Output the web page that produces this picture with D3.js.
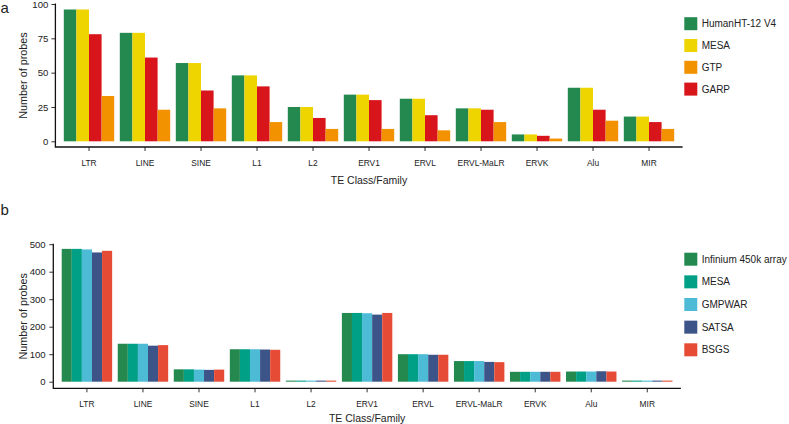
<!DOCTYPE html>
<html>
<head>
<meta charset="utf-8">
<script src="https://cdn.jsdelivr.net/npm/d3@7"></script>
<style>
    body { margin: 0; background: #fff; }
    text { font-family: "Liberation Sans", Arial, Helvetica, sans-serif; fill: #222; }
</style>
</head>
<body>
<div id="chart"></div>
<script>
// TE classes / families on the x axis (same for both panels)
const families = ["LTR", "LINE", "SINE", "L1", "L2", "ERV1", "ERVL", "ERVL-MaLR", "ERVK", "Alu", "MIR"];

// panel a - expression platforms
const exprLegend = ["HumanHT-12 V4", "MESA", "GTP", "GARP"];
const exprBarOrder = ["HumanHT-12 V4", "MESA", "GARP", "GTP"];
const exprColors = ["#23894f", "#efd500", "#f39200", "#d7151b"];
const humanHT = [96, 79, 57, 48, 25, 34, 31, 24, 5, 39, 18];
const mesaExpr = [96, 79, 57, 48, 25, 34, 31, 24, 5, 39, 18];
const gtp = [33, 23, 24, 14, 9, 9, 8, 14, 2, 15, 9];
const garp = [78, 61, 37, 40, 17, 30, 19, 23, 4, 23, 14];
const exprTicks = [0, 25, 50, 75, 100];

// panel b - methylation platforms
const methLegend = ["Infinium 450k array", "MESA", "GMPWAR", "SATSA", "BSGS"];
const methColors = ["#23894f", "#00a087", "#4dbbd5", "#3c5488", "#e64b35"];
const infinium = [483, 138, 45, 118, 4, 250, 100, 75, 36, 37, 4];
const mesaMeth = [483, 138, 45, 118, 4, 250, 100, 75, 36, 37, 4];
const gmpwar = [481, 138, 44, 118, 4, 249, 100, 75, 36, 37, 4];
const satsa = [470, 131, 43, 117, 4, 244, 98, 72, 36, 38, 4];
const bsgs = [476, 133, 44, 116, 4, 250, 98, 71, 36, 37, 4];
const methTicks = [0, 100, 200, 300, 400, 500];

const LAYOUT = {
    width: 789,
    height: 424,
    legendX: 684.3,
    keySize: 13,
    tickLen: 4
};

const svg = d3.select("#chart").append("svg")
    .attr("width", LAYOUT.width)
    .attr("height", LAYOUT.height);

function drawPanel(p) {
    const g = svg.append("g");
    const y = d3.scaleLinear().domain([0, p.yMax]).range([p.y0, p.yTop]);
    const x = d3.scaleBand().domain(families)
        .range([p.left, p.right])
        .paddingInner(0.1)
        .paddingOuter(0.15);
    const xs = d3.scaleBand().domain(p.barOrder).range([0, x.bandwidth()]);
    const color = d3.scaleOrdinal().domain(p.legend).range(p.colors);

    const rows = [];
    families.forEach((f, i) => {
        p.barOrder.forEach(s => rows.push({ family: f, series: s, value: p.values[s][i] }));
    });

    g.selectAll("rect.bar")
        .data(rows)
        .join("rect")
        .attr("class", "bar")
        .attr("x", d => x(d.family) + xs(d.series))
        .attr("width", xs.bandwidth())
        .attr("y", d => y(d.value))
        .attr("height", d => y(0) - y(d.value))
        .attr("fill", d => color(d.series));

    // y axis
    const yAxis = g.append("g")
        .attr("transform", `translate(${p.left},0)`)
        .call(d3.axisLeft(y).tickValues(p.ticks).tickSize(LAYOUT.tickLen).tickPadding(p.yPad));
    yAxis.select(".domain").remove();
    yAxis.selectAll("line").attr("stroke", "#333");
    yAxis.selectAll("text").style("font-size", "9.6px").attr("fill", "#222");

    // x axis
    const xAxis = g.append("g")
        .attr("transform", `translate(0,${p.axisY})`)
        .call(d3.axisBottom(x).tickSize(LAYOUT.tickLen).tickPadding(8.6));
    xAxis.select(".domain").remove();
    xAxis.selectAll("line").attr("stroke", "#333");
    xAxis.selectAll("text").style("font-size", "8.4px").attr("fill", "#222");

    // axis lines
    g.append("path")
        .attr("d", `M${p.left},${p.yTop - 0.5}V${p.axisY}H${p.right}`)
        .attr("fill", "none")
        .attr("stroke", "#111")
        .attr("stroke-width", 1.3);

    // titles
    g.append("text")
        .attr("x", (p.left + p.right) / 2)
        .attr("y", p.axisY + p.titleOffset)
        .attr("text-anchor", "middle")
        .style("font-size", "10.5px")
        .text("TE Class/Family");

    g.append("text")
        .attr("transform", `translate(26.5,${(p.yTop + p.axisY) / 2}) rotate(-90)`)
        .attr("text-anchor", "middle")
        .style("font-size", "10.8px")
        .text("Number of probes");

    g.append("text")
        .attr("x", 0.5)
        .attr("y", p.labelY)
        .style("font-size", "15px")
        .text(p.label);

    // legend
    const leg = g.selectAll("g.key")
        .data(p.legend)
        .join("g")
        .attr("class", "key")
        .attr("transform", (d, i) => `translate(${LAYOUT.legendX},${p.legendTop + i * p.legendStep})`);
    leg.append("rect")
        .attr("width", LAYOUT.keySize)
        .attr("height", LAYOUT.keySize)
        .attr("fill", d => color(d));
    leg.append("text")
        .attr("x", 17.4)
        .attr("y", LAYOUT.keySize / 2)
        .attr("dy", "0.35em")
        .style("font-size", "10px")
        .text(d => d);
}

drawPanel({
    label: "a",
    labelY: 13,
    left: 55.4,
    right: 682.6,
    y0: 141.3,
    yTop: 4,
    axisY: 147,
    yMax: 100,
    yPad: 3.1,
    titleOffset: 36.6,
    ticks: exprTicks,
    legend: exprLegend,
    barOrder: exprBarOrder,
    colors: exprColors,
    values: { "HumanHT-12 V4": humanHT, "MESA": mesaExpr, "GTP": gtp, "GARP": garp },
    legendTop: 17.2,
    legendStep: 21.8
});

drawPanel({
    label: "b",
    labelY: 215,
    left: 53.3,
    right: 680.9,
    y0: 381.7,
    yTop: 244.2,
    axisY: 388.3,
    yMax: 500,
    yPad: 3.6,
    titleOffset: 33.3,
    ticks: methTicks,
    legend: methLegend,
    barOrder: methLegend,
    colors: methColors,
    values: { "Infinium 450k array": infinium, "MESA": mesaMeth, "GMPWAR": gmpwar, "SATSA": satsa, "BSGS": bsgs },
    legendTop: 252.7,
    legendStep: 22.65
});
</script>
</body>
</html>
